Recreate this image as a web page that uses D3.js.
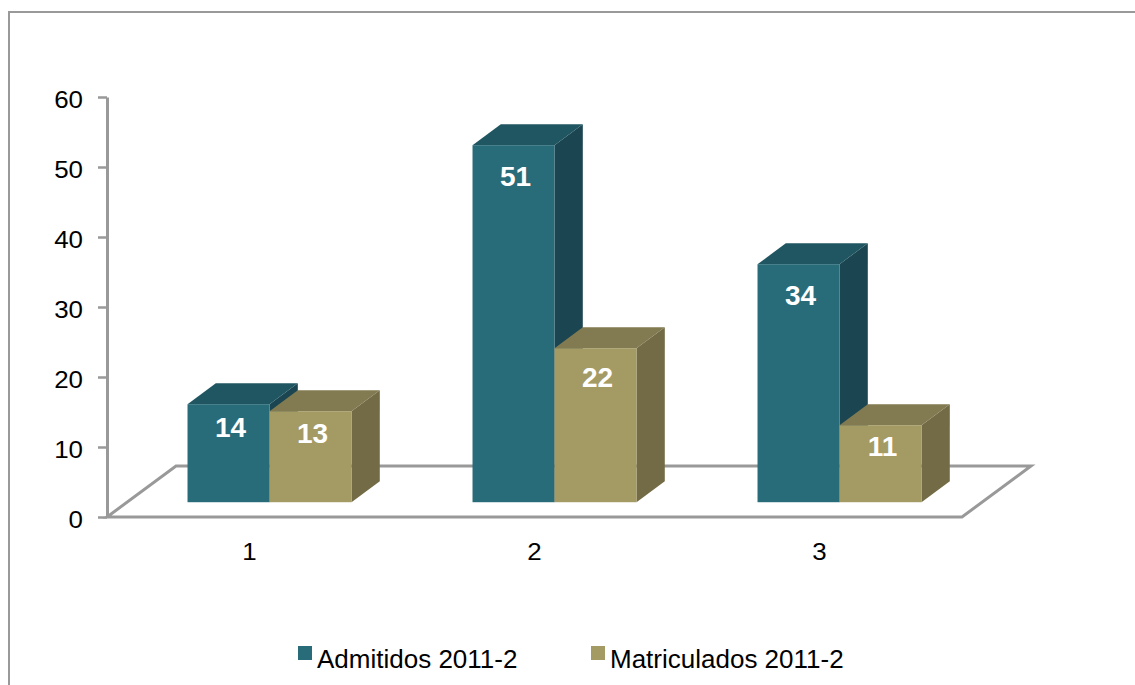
<!DOCTYPE html>
<html>
<head>
<meta charset="utf-8">
<script src="https://cdn.jsdelivr.net/npm/d3@7"></script>
<style>
  html, body { margin: 0; padding: 0; background: #fff; }
  svg { display: block; font-family: "Liberation Sans", Arial, sans-serif; }
</style>
</head>
<body>
<svg id="chart" width="1135" height="685"></svg>
<script>
// Chart data
const categories = ["1", "2", "3"];
const seriesNames = ["Admitidos 2011-2", "Matriculados 2011-2"];
const admitidos = [14, 51, 34];
const matriculados = [13, 22, 11];
const yTicks = [0, 10, 20, 30, 40, 50, 60];

const seriesValues = [admitidos, matriculados];
const palette = [
  { front: "#286b79", top: "#1f5661", side: "#1b4551" },
  { front: "#a49a64", top: "#827a50", side: "#736b45" }
];
const axisColor = "#999999";
const axisFontPx = 24, axisStretch = 1.08;   // axis labels are set slightly wide

const svg = d3.select("#chart");

// outer frame
svg.append("rect")
  .attr("x", 9).attr("y", 12).attr("width", 1140).attr("height", 690)
  .attr("fill", "none").attr("stroke", axisColor).attr("stroke-width", 2);

// plot geometry (front plane)
const x0 = 107, x1 = 962;
const y = d3.scaleLinear().domain([0, 60]).range([517, 97]);
const depth = { dx: 69, dy: -51 };          // full floor depth vector
const barFront = 0.29, barDepth = 0.41;     // fraction of floor depth

const x = d3.scaleBand().domain(categories).range([x0, x1])
  .paddingInner(0.4246).paddingOuter(0.2123);
const xs = d3.scaleBand().domain(seriesNames).range([0, x.bandwidth()]).padding(0);

// floor
const floor = [
  [x0, y(0)], [x1, y(0)],
  [x1 + depth.dx, y(0) + depth.dy], [x0 + depth.dx, y(0) + depth.dy]
];
svg.append("polygon")
  .attr("points", floor.map(p => p.join(",")).join(" "))
  .attr("fill", "none").attr("stroke", axisColor).attr("stroke-width", 3)
  .attr("stroke-linejoin", "miter");

// y axis
const yAxis = d3.axisLeft(y).tickValues(yTicks).tickSize(9).tickPadding(16).tickSizeOuter(0);
const gy = svg.append("g").attr("transform", `translate(${x0},0)`).call(yAxis);
gy.attr("font-size", null).attr("font-family", null);
gy.select(".domain").attr("stroke", axisColor).attr("stroke-width", 3);
gy.selectAll(".tick line").attr("stroke", axisColor).attr("stroke-width", 2.5);
gy.selectAll(".tick text")
  .style("font-size", axisFontPx + "px").attr("fill", "#000")
  .style("font-family", "Liberation Sans, Arial, sans-serif")
  .attr("x", -24 / axisStretch)
  .attr("transform", `scale(${axisStretch},1)`)
  .attr("dy", "0.42em");

// category labels
svg.append("g").selectAll("text").data(categories).join("text")
  .attr("transform", d => `translate(${x(d) - (x.step() * x.paddingInner()) / 2 + x.step() / 2},560) scale(${axisStretch},1)`)
  .attr("text-anchor", "middle").style("font-size", axisFontPx + "px").attr("fill", "#000")
  .text(d => d);

// bars
const fdx = depth.dx * barFront, fdy = depth.dy * barFront;
const bdx = depth.dx * barDepth, bdy = depth.dy * barDepth;
const bars = [];
categories.forEach((c, i) => {
  seriesNames.forEach((s, j) => {
    bars.push({ cat: c, series: s, si: j, value: seriesValues[j][i] });
  });
});

const gBars = svg.append("g");
bars.forEach(b => {
  const left = x(b.cat) + xs(b.series) + fdx;
  const right = left + xs.bandwidth();
  const bottom = y(0) + fdy;
  const top = y(b.value) + fdy;
  const col = palette[b.si];
  const g = gBars.append("g");
  // side face
  g.append("polygon")
    .attr("points", [[right, top], [right + bdx, top + bdy], [right + bdx, bottom + bdy], [right, bottom]]
      .map(p => p.join(",")).join(" "))
    .attr("fill", col.side);
  // top face
  g.append("polygon")
    .attr("points", [[left, top], [left + bdx, top + bdy], [right + bdx, top + bdy], [right, top]]
      .map(p => p.join(",")).join(" "))
    .attr("fill", col.top);
  // front face
  g.append("rect")
    .attr("x", left).attr("y", top).attr("width", right - left).attr("height", bottom - top)
    .attr("fill", col.front);
  // value label
  const h = bottom - top;
  const off = Math.min(31, 12 + h * 0.11);
  g.append("text")
    .attr("x", (left + right) / 2 + 2).attr("y", top + off)
    .attr("dy", "0.36em").attr("text-anchor", "middle")
    .style("font-size", "28px").attr("font-weight", "bold").attr("fill", "#fff")
    .text(b.value);
});

// legend
const legendX = [298, 591];
const lg = svg.append("g").selectAll("g").data(seriesNames).join("g")
  .attr("transform", (d, i) => `translate(${legendX[i]},646)`);
lg.append("rect").attr("width", 14).attr("height", 14).attr("fill", (d, i) => palette[i].front);
lg.append("text").attr("x", 19).attr("y", 22).style("font-size", "26px").attr("fill", "#000").text(d => d);
</script>
</body>
</html>
